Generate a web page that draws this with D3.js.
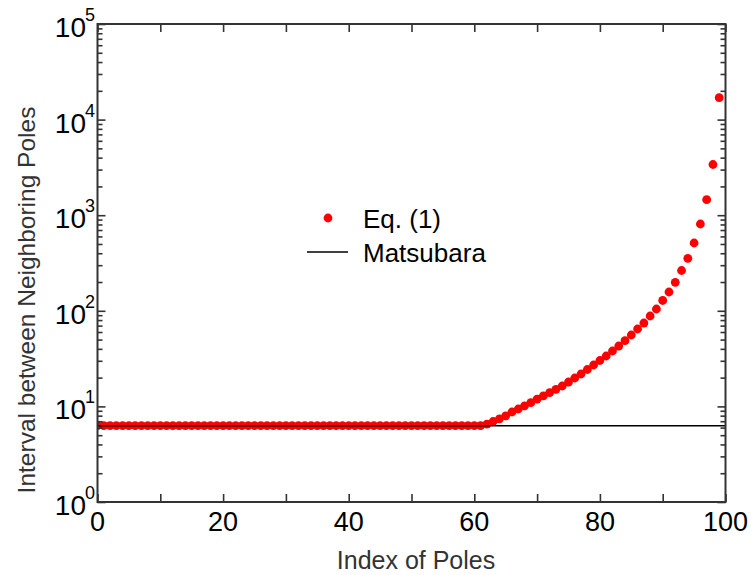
<!DOCTYPE html>
<html>
<head>
<meta charset="utf-8">
<script src="https://cdn.jsdelivr.net/npm/d3@7"></script>
<style>
  body { margin: 0; background: #fff; }
  text { font-family: "Liberation Sans", Arial, sans-serif; }
</style>
</head>
<body>
<script>
// Interval between neighboring poles, Eq. (1), index 0..99
const eqValues = [
    6.28, 6.28, 6.28, 6.28, 6.28, 6.28, 6.28, 6.28, 6.28, 6.28,
    6.28, 6.28, 6.28, 6.28, 6.28, 6.28, 6.28, 6.28, 6.28, 6.28,
    6.28, 6.28, 6.28, 6.28, 6.28, 6.28, 6.28, 6.28, 6.28, 6.28,
    6.28, 6.28, 6.28, 6.28, 6.28, 6.28, 6.28, 6.28, 6.28, 6.28,
    6.28, 6.28, 6.28, 6.28, 6.28, 6.28, 6.28, 6.28, 6.28, 6.28,
    6.28, 6.28, 6.28, 6.28, 6.28, 6.28, 6.28, 6.28, 6.28, 6.28,
    6.28, 6.28, 6.54, 6.95, 7.42, 7.97, 8.74, 9.39, 10.15, 10.93,
    11.89, 12.91, 13.94, 15.1, 16.35, 17.99, 19.82, 21.83, 24.32, 27.11,
    30.21, 33.67, 37.97, 42.82, 48.67, 55.83, 64.5, 74.5, 88.2, 104.4,
    128.2, 157.3, 198.7, 264, 354, 512, 809, 1452, 3391, 16950
]
const matsubaraX = [0, 100]
const matsubaraY = [6.28, 6.28]
const xTicks = [0, 20, 40, 60, 80, 100]
const xMinorTicks = [10, 30, 50, 70, 90]
const yExponents = [0, 1, 2, 3, 4, 5]
const legendLabels = ["Eq. (1)", "Matsubara"]

const W = 751, H = 575
const pLeft = 97.5, pRight = 725.5, pTop = 24, pBottom = 502

const svg = d3.select("body")
    .append("svg")
    .attr("width", W)
    .attr("height", H)

const x = d3.scaleLinear().domain([0, 100]).range([pLeft, pRight])
const y = d3.scaleLog().domain([1, 1e5]).range([pBottom, pTop])

svg.append("clipPath")
    .attr("id", "plot")
    .append("rect")
    .attr("x", pLeft)
    .attr("y", pTop)
    .attr("width", pRight - pLeft)
    .attr("height", pBottom - pTop)

const plot = svg.append("g").attr("clip-path", "url(#plot)")

plot.selectAll("circle")
    .data(eqValues)
    .join("circle")
    .attr("cx", (_, i) => x(i))
    .attr("cy", (d) => y(d))
    .attr("r", 4.4)
    .style("fill", "#ff0000")

plot.append("path")
    .datum(d3.zip(matsubaraX, matsubaraY))
    .attr("d", d3.line().x((d) => x(d[0])).y((d) => y(d[1])))
    .style("fill", "none")
    .style("stroke", "#000")
    .style("stroke-width", 1.5)

// axes, ticks pointing inward
const allX = xTicks.concat(xMinorTicks)
const minorY = y.ticks().filter((d) => Math.abs(Math.log10(d) - Math.round(Math.log10(d))) > 1e-6)
const majorY = yExponents.map((e) => Math.pow(10, e))

const axisStyle = (g) => {
    g.select(".domain").remove()
    g.selectAll("line").style("stroke", "#333").style("stroke-width", 1.6)
    g.selectAll("text").remove()
}

svg.append("g")
    .attr("transform", `translate(0,${pBottom})`)
    .call(d3.axisBottom(x).tickValues(allX).tickSize(-8))
    .call(axisStyle)
svg.append("g")
    .attr("transform", `translate(0,${pTop})`)
    .call(d3.axisTop(x).tickValues(allX).tickSize(-8))
    .call(axisStyle)
svg.append("g")
    .attr("transform", `translate(${pLeft},0)`)
    .call(d3.axisLeft(y).tickValues(majorY).tickSize(-8))
    .call(axisStyle)
svg.append("g")
    .attr("transform", `translate(${pLeft},0)`)
    .call(d3.axisLeft(y).tickValues(minorY).tickSize(-5))
    .call(axisStyle)
svg.append("g")
    .attr("transform", `translate(${pRight},0)`)
    .call(d3.axisRight(y).tickValues(majorY).tickSize(-8))
    .call(axisStyle)
svg.append("g")
    .attr("transform", `translate(${pRight},0)`)
    .call(d3.axisRight(y).tickValues(minorY).tickSize(-5))
    .call(axisStyle)

svg.append("rect")
    .attr("x", pLeft)
    .attr("y", pTop)
    .attr("width", pRight - pLeft)
    .attr("height", pBottom - pTop)
    .style("fill", "none")
    .style("stroke", "#333")
    .style("stroke-width", 2)

// tick labels
svg.append("g")
    .selectAll("text")
    .data(xTicks)
    .join("text")
    .attr("x", (d) => x(d))
    .attr("y", 531)
    .attr("text-anchor", "middle")
    .style("font-size", "27px")
    .style("fill", "#000")
    .text((d) => d)

const yl = svg.append("g")
    .selectAll("text")
    .data(yExponents)
    .join("text")
    .attr("x", 95)
    .attr("y", (d) => y(Math.pow(10, d)) + 13)
    .attr("text-anchor", "end")
    .style("font-size", "28px")
    .style("fill", "#000")
yl.append("tspan").text("10")
yl.append("tspan")
    .attr("dy", -16)
    .attr("dx", -1)
    .style("font-size", "18px")
    .text((d) => d)

// axis titles
svg.append("text")
    .attr("x", 416)
    .attr("y", 569)
    .attr("text-anchor", "middle")
    .style("font-size", "25px")
    .style("fill", "#333")
    .text("Index of Poles")
svg.append("text")
    .attr("transform", "translate(35,300) rotate(-90)")
    .attr("text-anchor", "middle")
    .style("font-size", "24.5px")
    .style("fill", "#333")
    .text("Interval between Neighboring Poles")

// legend
const legend = svg.append("g")
legend.append("circle")
    .attr("cx", 328)
    .attr("cy", 218)
    .attr("r", 4.4)
    .style("fill", "#ff0000")
legend.append("line")
    .attr("x1", 307)
    .attr("x2", 348)
    .attr("y1", 252)
    .attr("y2", 252)
    .style("stroke", "#000")
    .style("stroke-width", 1.5)
legend.selectAll("text")
    .data(legendLabels)
    .join("text")
    .attr("x", 363)
    .attr("y", (_, i) => 228 + i * 34)
    .style("font-size", "26px")
    .style("fill", "#000")
    .text((d) => d)
</script>
</body>
</html>
